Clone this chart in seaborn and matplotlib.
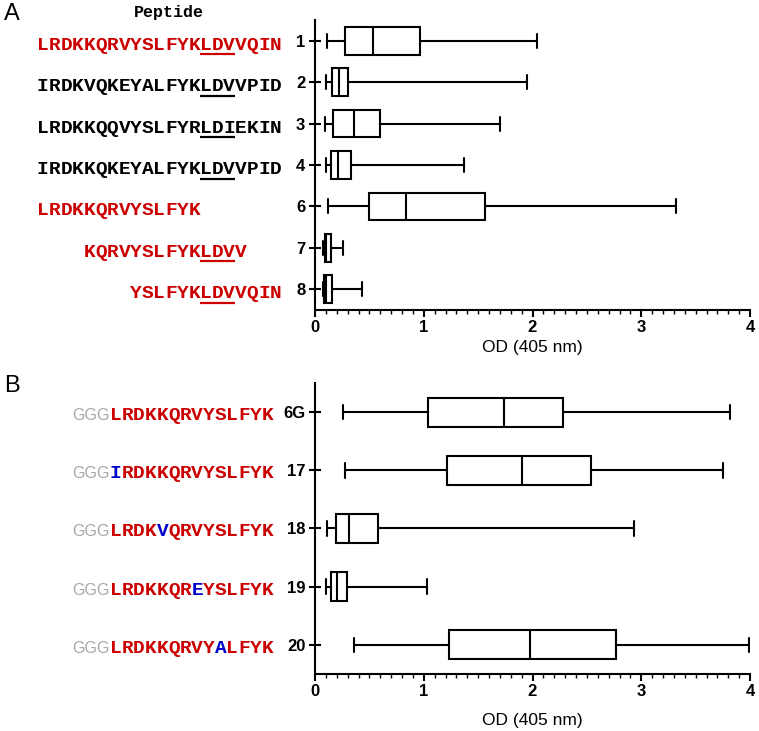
"""Peptide ELISA box plots (OD 405 nm), panels A and B."""

import matplotlib

matplotlib.use("Agg")
import matplotlib.pyplot as plt
import matplotlib.transforms as mtransforms
import pandas as pd
import seaborn as sns
from matplotlib.ticker import MultipleLocator

# ---- data: min, Q1, median, Q3, max per peptide ----
peptides_a = ["1", "2", "3", "4", "6", "7", "8"]
a_min = [0.11, 0.10, 0.09, 0.10, 0.12, 0.07, 0.07]
a_q1 = [0.28, 0.16, 0.17, 0.15, 0.50, 0.09, 0.08]
a_med = [0.53, 0.22, 0.36, 0.21, 0.84, 0.10, 0.10]
a_q3 = [0.97, 0.30, 0.60, 0.33, 1.56, 0.15, 0.16]
a_max = [2.04, 1.95, 1.70, 1.37, 3.32, 0.26, 0.43]

peptides_b = ["6G", "17", "18", "19", "20"]
b_min = [0.26, 0.28, 0.11, 0.10, 0.36]
b_q1 = [1.04, 1.21, 0.19, 0.15, 1.23]
b_med = [1.74, 1.90, 0.31, 0.20, 1.98]
b_q3 = [2.28, 2.54, 0.58, 0.29, 2.77]
b_max = [3.82, 3.75, 2.93, 1.03, 3.99]

seqs_a = [
    "LRDKKQRVYSLFYKLDVVQIN",
    "IRDKVQKEYALFYKLDVVPID",
    "LRDKKQQVYSLFYRLDIEKIN",
    "IRDKKQKEYALFYKLDVVPID",
    "LRDKKQRVYSLFYK",
    "KQRVYSLFYKLDVV",
    "YSLFYKLDVVQIN",
]
seq_start_a = [0, 0, 0, 0, 0, 4, 8]
seq_red_a = [True, False, False, False, True, True, True]
underline_a = [True, True, True, True, False, True, True]

linker_b = "GGG"
seqs_b = [
    "LRDKKQRVYSLFYK",
    "IRDKKQRVYSLFYK",
    "LRDKVQRVYSLFYK",
    "LRDKKQREYSLFYK",
    "LRDKKQRVYALFYK",
]
mutation_b = [None, 0, 4, 7, 9]

RED = "#cc0000"
BLUE = "#0000cc"
GREY = "#a8a8a8"
W, H = 759, 731
CW = 11.65  # px per residue (monospace grid)


def long_frame(names, *cols):
    rows = []
    for i, name in enumerate(names):
        for col in cols:
            rows.append({"peptide": name, "od": col[i]})
    return pd.DataFrame(rows)


sns.set_style("ticks")
plt.rcParams["font.family"] = ["Liberation Sans", "DejaVu Sans"]
plt.rcParams["text.color"] = "black"
plt.rcParams["axes.labelcolor"] = "black"

fig = plt.figure(figsize=(W / 100, H / 100), dpi=100)
ax_a = fig.add_axes([315 / W, 1 - 310 / H, 435 / W, 290 / H])
ax_b = fig.add_axes([315 / W, 1 - 674 / H, 435 / W, 291 / H])

df_a = long_frame(peptides_a, a_min, a_q1, a_med, a_q3, a_max)
df_b = long_frame(peptides_b, b_min, b_q1, b_med, b_q3, b_max)

for ax, df, n, width, pad in [(ax_a, df_a, len(peptides_a), 0.67, 4), (ax_b, df_b, len(peptides_b), 0.5, 10)]:
    sns.boxplot(data=df, x="od", y="peptide", orient="y", whis=(0, 100), width=width,
                color="white", linecolor="black", linewidth=1.5, ax=ax)
    sns.despine(ax=ax)
    ax.set_xlim(0, 4)
    ax.set_ylim(n - 0.5, -0.5)
    ax.set_xticks([0, 1, 2, 3, 4])
    ax.xaxis.set_minor_locator(MultipleLocator(0.1))
    ax.set_xlabel("OD (405 nm)", fontsize=12.5, labelpad=pad)
    ax.set_ylabel("")
    for side in ["left", "bottom"]:
        ax.spines[side].set_linewidth(1.5)
        ax.spines[side].set_color("black")
    ax.tick_params(axis="y", direction="inout", length=8, width=1.5, labelsize=12, pad=3, colors="black")
    ax.tick_params(axis="x", which="major", direction="out", length=5, width=1.5, labelsize=12, pad=2, colors="black")
    ax.tick_params(axis="x", which="minor", direction="out", length=3, width=1, colors="black")
    for lbl in ax.get_xticklabels() + ax.get_yticklabels():
        lbl.set_fontweight("bold")


def row_transform(ax, dy):
    base = mtransforms.blended_transform_factory(fig.transFigure, ax.transData)
    return mtransforms.offset_copy(base, fig=fig, x=0, y=-dy, units="dots")


# panel A sequences
x0_a = 37
for row, seq in enumerate(seqs_a):
    color = RED if seq_red_a[row] else "black"
    trans = row_transform(ax_a, 9)
    start = seq_start_a[row]
    for i, ch in enumerate(seq):
        fig.text((x0_a + (start + i + 0.5) * CW) / W, row, ch, transform=trans, ha="center", va="baseline",
                 family="Liberation Mono", weight="bold", fontsize=14, color=color)
    if underline_a[row]:
        ul = row_transform(ax_a, 13.5)
        ax_a.plot([(x0_a + 14 * CW) / W, (x0_a + 17 * CW) / W], [row, row], transform=ul,
                  color=color, lw=1.6, clip_on=False, solid_capstyle="butt")

# panel B sequences: grey linker, red peptide, blue substitution
x0_b = 75
x_pep = x0_b + 3 * CW
for row, seq in enumerate(seqs_b):
    trans = row_transform(ax_b, 8)
    fig.text(x_pep / W, row, linker_b, transform=trans, ha="right", va="baseline",
             family="Liberation Sans", fontsize=11.5, color=GREY)
    for i, ch in enumerate(seq):
        color = BLUE if i == mutation_b[row] else RED
        fig.text((x_pep + (i + 0.5) * CW) / W, row, ch, transform=trans, ha="center", va="baseline",
                 family="Liberation Mono", weight="bold", fontsize=14, color=color)

fig.text(169 / W, 1 - 12 / H, "Peptide", ha="center", va="center", family="Liberation Mono",
         weight="bold", fontsize=12, color="black")
fig.text(4 / W, 1 - 14 / H, "A", ha="left", va="center", fontsize=17, color="black")
fig.text(4 / W, 1 - 386 / H, "B", ha="left", va="center", fontsize=17, color="black")

fig.savefig("out.png", dpi=100)
